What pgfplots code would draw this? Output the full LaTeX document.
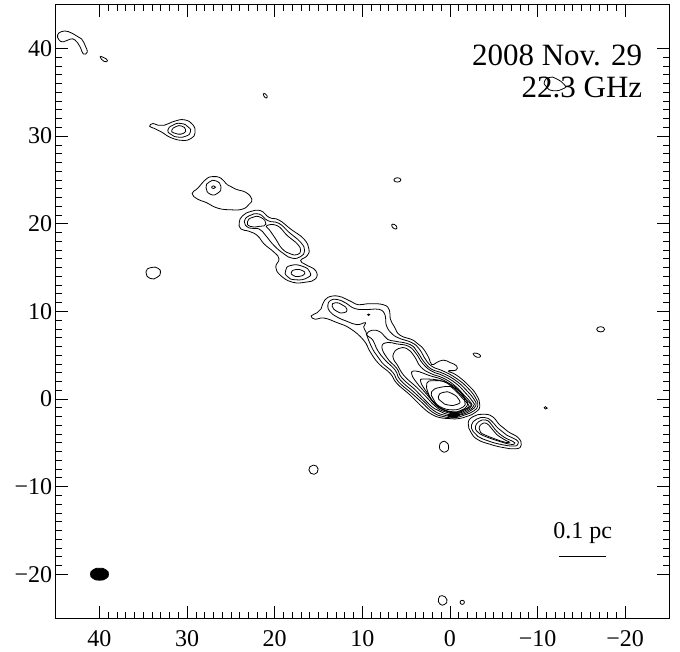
\documentclass[border=0pt]{standalone}
\usepackage{pgfplots}
\pgfplotsset{compat=1.18}
\usepackage{fontspec}
\setmainfont{Liberation Serif}
\pgfplotsset{
  ct/.style={black, line width=0.8bp, smooth cycle, tension=0.8, no markers},
  cs/.style={black, line width=0.8bp, smooth cycle, tension=1, no markers},
}
\begin{document}
\begin{tikzpicture}
\path[use as bounding box] (-55.7bp,-34bp) rectangle (624.3bp,618bp);
\begin{axis}[
  scale only axis, width=613.3bp, height=613.3bp,
  x dir=reverse,
  xmin=-25, xmax=45, ymin=-25, ymax=45,
  xtick={40,30,20,10,0,-10,-20},
  xticklabels={40,30,20,10,0,−10,−20},
  ytick={40,30,20,10,0,-10,-20},
  yticklabels={40,30,20,10,0,−10,−20},
  minor tick num=9,
  tick align=inside,
  major tick length=12bp, minor tick length=6bp,
  tick style={black, line width=0.7bp},
  axis line style={line width=0.9bp},
  xticklabel pos=bottom, yticklabel pos=left,
  xticklabel style={font=\fontsize{24bp}{24bp}\selectfont, yshift=-9bp},
  yticklabel style={font=\fontsize{24bp}{24bp}\selectfont},
  clip=true,
]
% main jet
\addplot[ct] coordinates {(15.84,9.47)(15.16,9.84)(14.70,10.30)(14.32,11.25)(13.45,11.74)(12.32,11.62)(11.37,11.17)(10.42,10.75)(9.28,10.87)(7.58,10.75)(6.90,10.11)(6.82,9.16)(6.33,8.22)(5.69,7.27)(4.17,6.70)(3.22,5.94)(2.47,4.81)(2.09,3.93)(1.52,4.16)(0.76,4.43)(0.0,4.16)(-0.75,3.78)(-0.68,3.29)(0.19,3.18)(-0.75,2.72)(-2.08,1.59)(-3.03,0.45)(-3.40,-0.69)(-3.03,-1.44)(-1.89,-2.01)(-0.56,-2.28)(0.76,-2.20)(2.09,-1.75)(3.41,-0.69)(4.55,0.45)(6.06,1.78)(6.82,2.91)(8.15,4.05)(9.10,5.37)(9.85,6.70)(11.37,8.03)(12.88,8.71)(14.40,9.24)(15.35,9.09)};
\addplot[ct] coordinates {(13.94,10.68)(13.64,11.25)(12.88,11.36)(11.94,10.98)(10.80,10.30)(9.28,10.22)(8.03,10.22)(7.39,9.54)(7.28,8.48)(6.75,7.57)(5.88,6.97)(4.36,6.43)(3.49,5.68)(2.73,4.43)(1.97,3.67)(0.76,3.18)(-0.75,2.34)(-2.08,1.21)(-2.95,0.07)(-3.18,-0.76)(-2.72,-1.37)(-1.70,-1.82)(-0.56,-2.13)(0.76,-2.01)(1.97,-1.52)(3.22,-0.38)(4.36,0.64)(5.88,1.96)(6.52,3.03)(7.77,4.16)(8.64,5.37)(9.28,6.70)(9.59,7.65)(9.85,8.22)(9.66,8.71)(10.61,8.48)(11.75,8.86)(12.88,9.35)(13.72,10.00)};
\addplot[cs] coordinates {(13.45,10.60)(13.07,10.98)(12.32,10.75)(11.75,10.22)(12.13,9.84)(12.88,9.99)};
\addplot[cs] coordinates {(9.40,9.62)(9.28,9.70)(9.16,9.62)(9.28,9.54)};
\addplot[ct] coordinates {(9.47,7.46)(8.91,7.84)(7.96,7.65)(7.13,6.81)(6.25,6.59)(4.55,6.21)(3.72,5.37)(2.96,4.24)(2.09,3.40)(0.76,2.91)(-0.75,2.04)(-1.97,0.90)(-2.80,-0.12)(-2.95,-0.76)(-2.42,-1.29)(-1.51,-1.75)(-0.56,-1.97)(0.76,-1.82)(1.90,-1.29)(3.03,-0.23)(4.17,0.83)(5.69,2.19)(6.25,3.29)(7.39,4.43)(8.26,5.56)(8.79,6.70)(9.40,7.19)};
\addplot[ct] coordinates {(7.77,5.94)(7.13,6.44)(6.06,6.28)(4.74,6.02)(3.87,5.19)(3.11,4.05)(2.09,3.18)(0.76,2.65)(-0.68,1.78)(-1.78,0.68)(-2.61,-0.31)(-2.72,-0.76)(-2.12,-1.29)(-0.75,-1.82)(0.69,-1.63)(1.82,-1.07)(2.96,0.00)(3.98,1.06)(5.50,2.42)(6.06,3.48)(7.13,4.62)};
\addplot[ct] coordinates {(6.44,5.19)(5.88,5.75)(4.93,5.75)(4.10,4.92)(3.34,3.67)(2.20,2.91)(0.76,2.38)(-0.56,1.51)(-1.59,0.45)(-2.35,-0.38)(-2.46,-0.80)(-1.89,-1.25)(-0.75,-1.67)(0.65,-1.44)(1.71,-0.80)(2.73,0.26)(3.79,1.32)(5.23,2.65)(5.99,3.86)(6.44,4.54)};
\addplot[ct] coordinates {(4.36,2.80)(3.87,3.18)(2.28,2.65)(0.76,2.16)(-0.45,1.28)(-1.43,0.26)(-2.30,-0.50)(-2.33,-0.84)(-1.66,-1.22)(-0.75,-1.60)(0.54,-1.34)(1.60,-0.66)(2.58,0.45)(3.49,1.47)};
\addplot[ct] coordinates {(3.34,1.97)(2.85,2.27)(0.76,2.00)(-0.45,1.10)(-1.45,0.05)(-2.10,-0.65)(-2.10,-0.95)(-1.50,-1.25)(-0.60,-1.55)(0.60,-1.25)(1.70,-0.50)(2.60,0.70)};
\addplot[ct] coordinates {(2.65,1.78)(1.90,2.08)(0.38,1.89)(-1.00,0.98)(-1.85,-0.12)(-1.95,-0.80)(-1.25,-1.30)(-0.37,-1.46)(0.95,-1.14)(1.90,-0.38)(2.47,0.64)};
\addplot[ct] coordinates {(2.09,0.83)(1.14,1.32)(-0.37,1.32)(-1.40,0.46)(-1.70,-0.35)(-1.55,-0.88)(-0.37,-1.25)(1.14,-0.88)(1.90,0.00)};
\addplot[cs] coordinates {(1.33,0.26)(0.76,0.75)(-0.19,0.64)(-1.06,-0.12)(-0.83,-0.61)(0.19,-0.69)(0.95,-0.31)};
\addplot[cs, fill=black] coordinates {(0.19,-1.82)(-0.45,-1.62)(-1.13,-1.75)(-0.68,-2.05)(0.0,-2.05)};
% blob to the lower right of the core
\addplot[ct] coordinates {(-2.08,-2.77)(-2.65,-2.01)(-3.78,-1.75)(-4.84,-2.01)(-5.68,-2.96)(-6.62,-3.72)(-7.76,-4.40)(-8.14,-5.23)(-7.57,-5.69)(-6.06,-5.54)(-4.54,-5.16)(-3.21,-4.66)(-2.46,-3.91)};
\addplot[ct] coordinates {(-2.46,-2.96)(-3.03,-2.31)(-3.97,-2.12)(-4.73,-2.50)(-5.49,-3.34)(-6.44,-4.10)(-7.57,-4.66)(-7.76,-5.16)(-7.19,-5.38)(-5.68,-5.16)(-4.35,-4.78)(-3.21,-4.29)(-2.65,-3.72)};
\addplot[ct] coordinates {(-2.91,-3.15)(-3.29,-2.58)(-4.05,-2.39)(-4.62,-2.77)(-5.30,-3.64)(-6.25,-4.40)(-7.19,-4.85)(-7.38,-5.12)(-6.81,-5.16)(-5.68,-4.85)(-4.35,-4.40)(-3.41,-3.98)(-3.03,-3.64)};
\addplot[ct] coordinates {(-3.33,-3.34)(-3.59,-2.88)(-4.16,-2.77)(-4.73,-3.34)(-5.30,-4.02)(-6.25,-4.66)(-6.81,-4.93)(-6.25,-4.93)(-5.11,-4.55)(-3.97,-4.10)(-3.48,-3.79)};
% knot near (18,18)
\addplot[ct] coordinates {(24.05,20.15)(23.67,20.91)(22.73,21.40)(21.59,21.48)(20.64,20.72)(19.51,20.42)(18.18,19.39)(16.67,18.26)(16.10,17.12)(16.29,16.36)(17.04,15.80)(16.48,15.34)(15.34,14.66)(15.34,13.71)(16.48,13.33)(17.99,13.33)(19.32,14.09)(19.88,15.04)(19.51,15.99)(20.07,16.74)(21.21,17.69)(21.97,18.64)(22.91,19.13)(23.86,19.40)};
\addplot[ct] coordinates {(23.48,20.23)(22.91,20.91)(21.78,21.10)(20.76,20.34)(19.51,20.04)(18.37,19.02)(17.04,17.88)(16.59,16.93)(17.04,16.25)(17.99,16.06)(18.94,16.55)(20.07,17.50)(21.02,18.64)(21.78,19.40)(22.91,19.51)};
\addplot[cs] coordinates {(23.10,20.23)(22.54,20.72)(21.59,20.72)(21.01,19.96)(21.78,19.70)(22.80,19.70)};
\addplot[ct] coordinates {(20.91,19.77)(19.70,19.77)(18.56,18.64)(17.42,17.69)(17.04,16.93)(17.42,16.48)(18.18,16.55)(19.13,17.12)(19.89,18.26)(20.53,19.20)};
\addplot[cs] coordinates {(18.75,14.66)(18.18,15.23)(16.85,15.15)(15.98,14.47)(16.29,13.83)(17.61,13.60)(18.56,13.98)};
\addplot[cs] coordinates {(18.10,14.47)(17.61,14.77)(16.85,14.66)(16.59,14.28)(17.23,13.98)(17.88,14.09)};
% blob at 24
\addplot[ct] coordinates {(29.43,23.45)(28.79,24.05)(27.84,25.08)(27.08,25.38)(26.13,25.19)(25.38,24.43)(24.43,23.94)(23.27,23.56)(22.61,22.80)(22.91,22.24)(23.67,21.67)(25.00,21.59)(26.51,21.78)(27.84,22.43)(28.79,22.80)};
\addplot[cs] coordinates {(27.84,24.13)(27.46,24.77)(26.70,24.89)(26.13,24.21)(26.51,23.49)(27.35,23.37)};
\addplot[cs] coordinates {(27.20,24.17)(26.97,24.32)(26.75,24.17)(26.97,24.02)};
% blob at 30
\addplot[ct] coordinates {(34.28,31.13)(33.90,31.44)(33.34,31.25)(32.58,31.25)(31.44,31.70)(30.31,31.86)(29.36,31.32)(29.09,30.38)(29.55,29.73)(30.50,29.51)(31.82,29.81)(32.96,30.49)(33.72,30.87)};
\addplot[cs] coordinates {(32.20,30.68)(31.63,31.25)(30.69,31.44)(29.85,31.02)(29.62,30.49)(30.12,30.00)(31.06,29.89)(31.82,30.19)};
\addplot[cs] coordinates {(31.75,30.68)(31.25,31.10)(30.61,31.14)(30.19,30.76)(30.38,30.34)(31.06,30.23)(31.56,30.38)};
% top left corner
\addplot[ct] coordinates {(44.78,41.55)(44.32,41.93)(43.56,41.93)(42.62,41.44)(42.05,41.10)(41.59,40.23)(41.40,39.58)(41.86,39.39)(42.24,40.23)(42.81,40.98)(43.37,41.06)(44.13,40.76)(44.62,40.98)};
\addplot[cs] coordinates {(39.93,39.05)(39.55,38.98)(39.09,38.64)(39.47,38.52)};
% small islands
\addplot[cs] coordinates {(1.20,-5.40)(0.90,-4.90)(0.40,-4.95)(0.15,-5.50)(0.40,-6.00)(0.95,-5.95)};
\addplot[cs] coordinates {(-2.65,5.15)(-3.10,5.20)(-3.50,4.90)(-3.10,4.75)};
\addplot[cs] coordinates {(6.40,25.00)(6.00,25.25)(5.60,25.00)(6.00,24.75)};
\addplot[cs] coordinates {(6.65,19.85)(6.30,19.90)(6.05,19.50)(6.40,19.45)};
\addplot[cs] coordinates {(21.30,34.80)(21.05,34.80)(20.85,34.45)(21.10,34.40)};
\addplot[cs] coordinates {(-16.75,7.95)(-17.20,8.25)(-17.65,7.95)(-17.20,7.65)};
\addplot[cs] coordinates {(-10.75,-1.00)(-10.90,-0.88)(-11.10,-1.05)(-10.90,-1.15)};
\addplot[cs] coordinates {(16.10,-8.10)(15.60,-7.55)(15.05,-8.00)(15.50,-8.60)};
\addplot[cs] coordinates {(1.30,-22.80)(0.90,-22.45)(0.35,-22.90)(0.60,-23.45)(1.15,-23.40)};
\addplot[cs] coordinates {(-1.15,-23.20)(-1.40,-22.98)(-1.65,-23.20)(-1.40,-23.45)};
\addplot[cs] coordinates {(34.70,14.50)(34.10,15.00)(33.30,14.90)(33.05,14.40)(33.40,13.90)(34.20,13.75)};
\addplot[cs] coordinates {(-10.79,36.25)(-11.36,36.70)(-12.12,36.55)(-13.06,35.87)(-12.95,35.42)(-11.74,35.19)(-10.98,35.68)};
% beam
\addplot[cs, fill=black] coordinates {(41.02,-20.00)(40.72,-19.50)(40.00,-19.32)(39.28,-19.50)(38.98,-20.00)(39.28,-20.50)(40.00,-20.68)(40.72,-20.50)};
% scale bar
\addplot[black, line width=0.7bp, no markers] coordinates {(-12.39,-17.95)(-17.84,-17.95)};
\node[anchor=base east, font=\fontsize{31bp}{31bp}\selectfont, inner sep=0pt] at (axis cs:-21.97,38.1) {2008 Nov. 29};
\node[anchor=base east, font=\fontsize{31bp}{31bp}\selectfont, inner sep=0pt] at (axis cs:-21.97,34.37) {22.3 GHz};
\node[anchor=base, font=\fontsize{24bp}{24bp}\selectfont, inner sep=0pt] at (axis cs:-15.15,-15.9) {0.1 pc};
\end{axis}
\end{tikzpicture}
\end{document}
